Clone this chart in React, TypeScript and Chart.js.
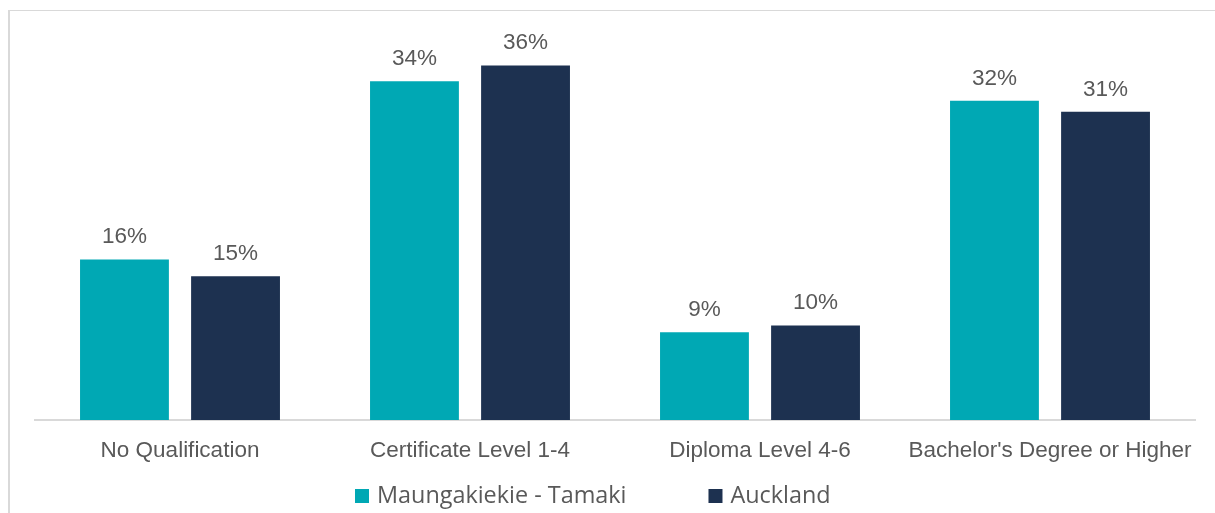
import React, { useEffect, useRef } from "react";
import { Chart, registerables } from "chart.js";

Chart.register(...registerables);

const categories = [
  "No Qualification",
  "Certificate Level 1-4",
  "Diploma Level 4-6",
  "Bachelor's Degree or Higher",
];
const seriesNames = ["Maungakiekie - Tamaki", "Auckland"];
const maungakiekieValues = [16.3, 34.4, 8.9, 32.4];
const aucklandValues = [14.6, 36.0, 9.6, 31.3];
const seriesColors = ["#00a8b4", "#1d3150"];

const TEXT_COLOR = "#595959";
const FONT_FAMILY = "'Liberation Sans', Arial, sans-serif";
const LEGEND_FONT = "'Open Sans', sans-serif";

const dataLabelPlugin = {
  id: "dataLabels",
  afterDatasetsDraw(chart: any) {
    const ctx = chart.ctx;
    ctx.save();
    ctx.font = `22.5px ${FONT_FAMILY}`;
    ctx.fillStyle = TEXT_COLOR;
    ctx.textAlign = "center";
    ctx.textBaseline = "alphabetic";
    chart.data.datasets.forEach((ds: any, di: number) => {
      const meta = chart.getDatasetMeta(di);
      meta.data.forEach((bar: any, i: number) => {
        const v = ds.data[i];
        ctx.fillText(`${Math.round(v)}%`, bar.x, bar.y - 16);
      });
    });
    ctx.restore();
  },
};

const customLegendPlugin = {
  id: "customLegend",
  afterDraw(chart: any) {
    const ctx = chart.ctx;
    ctx.save();
    ctx.font = `23.4px ${LEGEND_FONT}`;
    ctx.textBaseline = "alphabetic";
    ctx.textAlign = "left";
    let x = 355;
    const baseline = 503;
    const box = 14;
    chart.data.datasets.forEach((ds: any) => {
      ctx.fillStyle = ds.backgroundColor;
      ctx.fillRect(x, baseline - box, box, box);
      ctx.fillStyle = TEXT_COLOR;
      ctx.fillText(ds.label, x + box + 8, baseline);
      const w = ctx.measureText(ds.label).width;
      x += box + 8 + w + 82;
    });
    ctx.restore();
  },
};

export default function App() {
  const canvasRef = useRef<HTMLCanvasElement | null>(null);

  useEffect(() => {
    if (!canvasRef.current) return;
    const chart = new Chart(canvasRef.current, {
      type: "bar",
      data: {
        labels: categories,
        datasets: [
          {
            label: seriesNames[0],
            data: maungakiekieValues,
            backgroundColor: seriesColors[0],
          },
          {
            label: seriesNames[1],
            data: aucklandValues,
            backgroundColor: seriesColors[1],
          },
        ],
      },
      options: {
        animation: false,
        responsive: false,
        maintainAspectRatio: false,
        layout: { padding: { left: 35, right: 20, top: 26, bottom: 32 } },
        plugins: {
          legend: { display: false },
          tooltip: { enabled: false },
        },
        datasets: {
          bar: { categoryPercentage: 0.766, barPercentage: 0.8 },
        },
        scales: {
          x: {
            grid: { display: false, drawTicks: false },
            border: { display: true, color: "#d9d9d9", width: 2 },
            ticks: {
              color: TEXT_COLOR,
              font: { family: FONT_FAMILY, size: 22.5 },
              padding: 17,
              maxRotation: 0,
              autoSkip: false,
            },
          },
          y: { display: false, min: 0, max: 40 },
        },
      },
      plugins: [dataLabelPlugin, customLegendPlugin],
    });
    return () => chart.destroy();
  }, []);

  return (
    <div style={{ position: "fixed", left: 0, top: 0, width: 1215, height: 513, background: "#fff" }}>
      <div
        style={{
          position: "absolute",
          left: 8,
          top: 10,
          width: 1230,
          height: 520,
          borderLeft: "2px solid #d9d9d9",
          borderTop: "1px solid #d9d9d9",
        }}
      />
      <canvas
        ref={canvasRef}
        width={1215}
        height={513}
        style={{ position: "absolute", left: 0, top: 0, width: 1215, height: 513, display: "block" }}
      />
    </div>
  );
}
